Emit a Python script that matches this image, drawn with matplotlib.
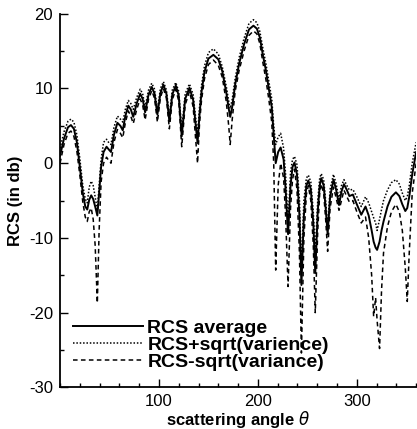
import matplotlib
matplotlib.use("Agg")
import matplotlib.pyplot as plt
from matplotlib.ticker import MultipleLocator

plt.rcParams["font.family"] = ["Liberation Sans", "DejaVu Sans"]
plt.rcParams["axes.unicode_minus"] = False

# scattering angle (deg) and RCS values (dB)
theta = [0, 4, 8, 11, 14, 17, 20, 23, 25.5, 27.5, 29.5, 31.5, 33.5, 35.5, 37.7, 39.5,
         41.5, 44, 47, 49.5, 51.5, 54.5, 58, 61, 63.4, 66, 69, 71.5, 74, 77.5, 81,
         83.5, 86, 89.5, 92.7, 95.5, 98.4, 101.5, 104.5, 107.5, 110.5, 113.5, 117,
         120, 123, 126.5, 130.8, 134.5, 139, 141, 143, 146, 150, 155, 160, 164, 168,
         170.5, 172, 174, 177, 181, 186, 191, 195.5, 199, 202, 205, 208, 211, 214,
         216, 218, 220.5, 223, 226, 228, 230.5, 233, 235, 237, 239.5, 242, 244,
         246.5, 249, 251, 253.5, 256, 258, 260.5, 262.5, 264, 266.5, 268.5, 270.5,
         273, 276.4, 279, 282, 284.5, 287, 290, 292.5, 296, 300, 304.5, 308.8, 312,
         315, 317, 319, 320.5, 323, 325, 327, 331, 335, 339.5, 343, 346, 349, 351,
         353, 356, 360]

rcs_avg = [1.0, 3.3, 4.8, 5.1, 4.6, 2.8, -0.5, -4.0, -5.8, -6.2, -4.9, -4.3, -4.8,
           -5.8, -7.0, -4.0, -0.5, 1.5, 2.2, 1.8, 1.5, 3.8, 5.4, 5.0, 4.4, 6.3, 7.7,
           7.2, 6.2, 8.0, 9.3, 8.6, 6.8, 9.2, 10.2, 9.3, 6.5, 9.4, 10.5, 9.3, 5.6,
           9.2, 10.4, 9.0, 3.6, 8.6, 10.1, 8.5, 2.7, 6.5, 9.5, 12.2, 14.0, 14.5,
           13.9, 12.3, 9.5, 7.3, 6.2, 7.5, 10.5, 13.3, 15.9, 17.9, 18.4, 18.0, 16.8,
           14.5, 12.5, 10.0, 7.5, 3.8, 0.0, 1.5, 2.1, 0.5, -3.5, -9.5, -3.0, -0.5,
           0.1, -1.5, -7.0, -16.3, -7.0, -3.0, -2.3, -3.5, -8.0, -14.7, -6.5, -3.0,
           -2.0, -3.0, -6.0, -9.5, -4.5, -2.2, -3.5, -5.6, -3.8, -2.8, -3.6, -4.4,
           -4.2, -5.5, -6.9, -5.8, -7.0, -9.0, -10.5, -11.3, -11.6, -10.5, -9.0,
           -7.8, -5.8, -4.5, -3.9, -4.4, -5.5, -6.4, -6.0, -4.5, -1.5, 1.5]

rcs_plus = [2.0, 4.2, 5.6, 5.9, 5.5, 3.8, 0.6, -3.0, -4.8, -5.3, -3.2, -2.4, -3.0,
            -4.5, -6.3, -3.0, 0.5, 2.8, 3.2, 2.7, 2.5, 4.8, 6.3, 5.9, 5.5, 7.2, 8.4,
            8.0, 7.2, 8.8, 9.9, 9.3, 7.5, 9.8, 10.7, 9.9, 7.2, 10.0, 10.9, 9.8, 6.3,
            9.8, 10.8, 9.6, 4.5, 9.3, 10.6, 9.2, 3.8, 7.5, 10.4, 13.0, 14.8, 15.3,
            14.6, 12.9, 10.3, 8.3, 7.3, 8.5, 11.3, 14.1, 16.7, 18.7, 19.2, 18.8, 17.6,
            15.4, 13.4, 11.0, 8.6, 5.0, 2.5, 3.5, 4.0, 2.0, -1.5, -8.0, -1.2, 0.5,
            0.9, -0.2, -5.0, -14.0, -5.0, -2.0, -1.6, -2.5, -6.5, -12.0, -5.0, -2.0,
            -1.4, -2.2, -5.0, -8.5, -3.5, -1.5, -2.7, -4.8, -3.0, -2.2, -3.0, -3.6,
            -3.5, -4.5, -5.8, -4.5, -5.3, -6.5, -7.3, -8.0, -9.0, -7.5, -6.2, -5.0,
            -3.6, -2.6, -2.2, -2.8, -4.0, -5.0, -4.5, -3.0, 0.0, 2.8]

rcs_minus = [0.0, 2.5, 4.0, 4.3, 3.6, 1.6, -1.6, -5.2, -7.2, -7.8, -6.5, -6.0, -7.5,
             -11.0, -18.7, -9.0, -2.5, 0.0, 0.8, 0.3, 0.0, 2.8, 4.5, 4.0, 3.4, 5.4,
             7.0, 6.3, 5.3, 7.2, 8.6, 7.8, 5.8, 8.6, 9.7, 8.7, 5.5, 8.8, 10.0, 8.7,
             4.6, 8.5, 9.9, 8.3, 2.2, 7.8, 9.6, 7.6, 0.0, 5.3, 8.4, 11.3, 13.2, 13.8,
             13.1, 11.5, 8.3, 5.0, 2.5, 5.8, 9.6, 12.4, 15.0, 17.1, 17.7, 17.3, 16.0,
             13.5, 11.3, 8.6, 5.5, 0.0, -14.3, -3.0, 0.0, -2.0, -7.0, -16.5, -6.0,
             -2.2, -0.8, -3.5, -12.0, -25.4, -10.0, -4.2, -3.0, -5.0, -11.0, -20.0,
             -9.0, -4.0, -2.8, -4.0, -7.5, -11.8, -6.0, -3.2, -4.6, -6.3, -5.0, -3.6,
             -4.5, -5.2, -5.0, -6.5, -8.0, -7.2, -10.0, -15.0, -20.5, -18.0, -21.0,
             -24.8, -17.0, -12.0, -8.5, -6.5, -5.5, -6.5, -9.0, -14.0, -18.5, -12.0,
             -4.0, 0.0]

fig = plt.figure(figsize=(4.17, 4.29), dpi=100)
ax = fig.add_axes([0.144, 0.097, 0.854, 0.871])

ax.plot(theta, rcs_avg, color="black", lw=1.4, label="RCS average")
ax.plot(theta, rcs_plus, color="black", lw=1.1, linestyle=(0, (1, 1.2)),
        label="RCS+sqrt(varience)")
ax.plot(theta, rcs_minus, color="black", lw=1.1, linestyle=(0, (3, 2.2)),
        label="RCS-sqrt(variance)")

ax.set_xlim(0, 360)
ax.set_ylim(-30, 20)
ax.set_xticks([100, 200, 300])
ax.xaxis.set_minor_locator(MultipleLocator(20))
ax.yaxis.set_major_locator(MultipleLocator(10))
ax.yaxis.set_minor_locator(MultipleLocator(5))
ax.tick_params(which="both", direction="in", width=1.0, labelsize=12)
ax.tick_params(which="major", length=6)
ax.tick_params(which="minor", length=3)
ax.tick_params(axis="x", pad=5)
ax.tick_params(axis="y", pad=5)

for side in ["top", "right"]:
    ax.spines[side].set_visible(False)
for side in ["left", "bottom"]:
    ax.spines[side].set_linewidth(1.3)

ax.set_xlabel(r"scattering angle $\theta$", fontsize=12, fontweight="bold", labelpad=0)
ax.set_ylabel("RCS (in db)", fontsize=12, fontweight="bold", labelpad=4)

leg = ax.legend(loc="lower left", bbox_to_anchor=(0.035, 0.045), frameon=False,
                handlelength=3.6, handletextpad=0.25, labelspacing=-0.05,
                borderpad=0, borderaxespad=0, prop={"weight": "bold", "size": 14})

fig.savefig("out.png", dpi=100)
